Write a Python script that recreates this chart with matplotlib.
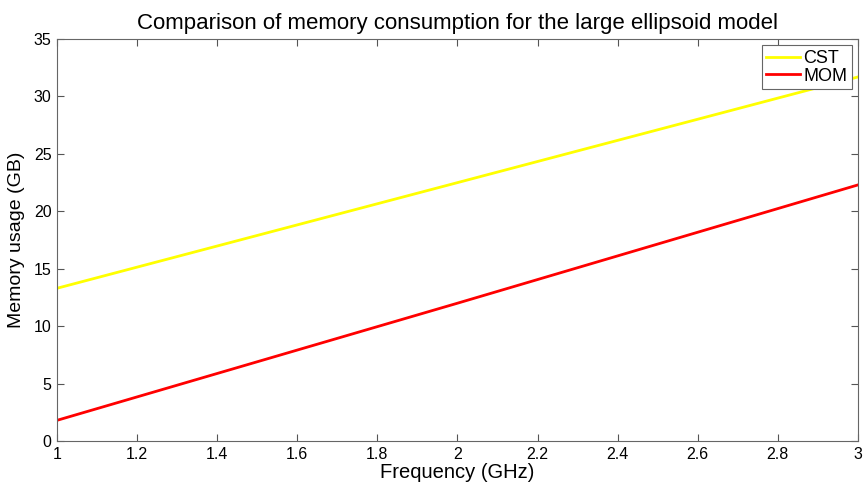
import matplotlib
matplotlib.use("Agg")
import matplotlib.pyplot as plt

plt.rcParams['font.family'] = ['Liberation Sans', 'DejaVu Sans']

freq_ghz = [1.0, 2.0, 3.0]
cst_gb = [13.3, 22.5, 31.7]
mom_gb = [1.8, 12.0, 22.3]
x_ticks = [1, 1.2, 1.4, 1.6, 1.8, 2, 2.2, 2.4, 2.6, 2.8, 3]
x_tick_labels = ['1', '1.2', '1.4', '1.6', '1.8', '2', '2.2', '2.4', '2.6', '2.8', '3']
y_ticks = [0, 5, 10, 15, 20, 25, 30, 35]

fig = plt.figure(figsize=(8.64, 4.86), dpi=100)
ax = fig.add_axes([0.066, 0.0926, 0.927, 0.827])

ax.plot(freq_ghz, cst_gb, color='#ffff00', lw=2, label='CST')
ax.plot(freq_ghz, mom_gb, color='#ff0000', lw=2, label='MOM')

ax.set_xlim(1, 3)
ax.set_ylim(0, 35)
ax.set_xticks(x_ticks)
ax.set_xticklabels(x_tick_labels)
ax.set_yticks(y_ticks)
ax.tick_params(direction='in', top=True, right=True, length=5, width=0.8,
               color='#555555', labelsize=11.5, pad=4)
for s in ax.spines.values():
    s.set_color('#666666')
    s.set_linewidth(0.8)

ax.set_xlabel('Frequency (GHz)', fontsize=14.5, labelpad=1)
ax.set_ylabel('Memory usage (GB)', fontsize=14, labelpad=6)
ax.set_title('Comparison of memory consumption for the large ellipsoid model',
             fontsize=16, pad=7)

leg = ax.legend(loc='upper right', fontsize=13, fancybox=False, framealpha=1,
                edgecolor='#666666', borderaxespad=0.35, handlelength=1.9,
                handletextpad=0.15, borderpad=0.25, labelspacing=0.05)
leg.get_frame().set_linewidth(0.8)

fig.savefig('out.png', dpi=100)
